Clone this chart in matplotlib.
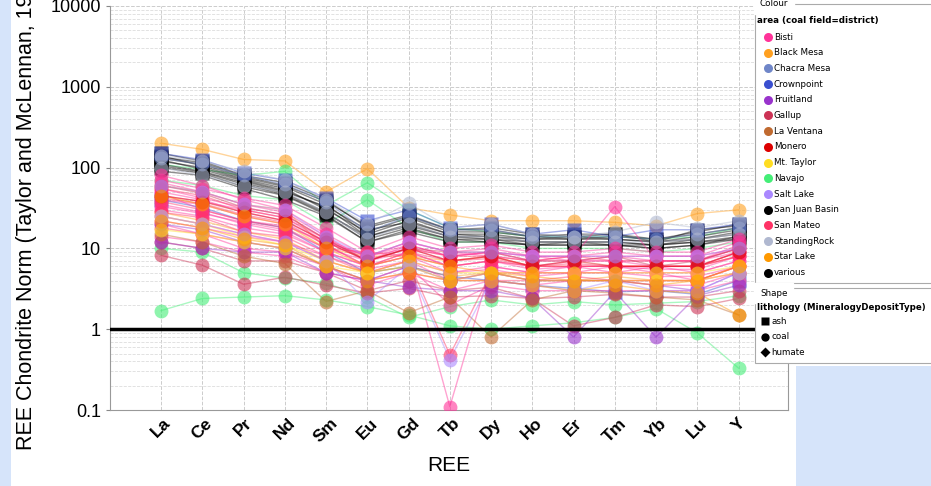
import matplotlib
matplotlib.use("Agg")
import matplotlib.pyplot as plt
from matplotlib.patches import Rectangle

ree = ["La", "Ce", "Pr", "Nd", "Sm", "Eu", "Gd", "Tb", "Dy", "Ho", "Er", "Tm", "Yb", "Lu", "Y"]

districts = ["Bisti", "Black Mesa", "Chacra Mesa", "Crownpoint", "Fruitland", "Gallup",
             "La Ventana", "Monero", "Mt. Taylor", "Navajo", "Salt Lake", "San Juan Basin",
             "San Mateo", "StandingRock", "Star Lake", "various"]
district_colors = ["#ff3399", "#ffa020", "#6f86c8", "#3a4fd0", "#9933cc", "#cc3355",
                   "#c06a30", "#dd0000", "#ffdd22", "#44ee77", "#aa88ff", "#000000",
                   "#ff3366", "#b0b8d0", "#ff9900", "#000000"]

# samples: (district, lithology, values La..Y)
samples = [
    ("Black Mesa", "coal", [200, 168, 126, 121, 50, 97, 32, 26, 22, 22, 22, 21, 19, 27, 30]),
    ("Black Mesa", "coal", [60, 50, 35, 30, 10, 8, 8, 7, 8, 6, 6, 6, 6, 6, 8]),
    ("Black Mesa", "coal", [28, 22, 16, 13, 7, 5, 6, 4.5, 5, 4, 4, 4.5, 4, 4, 6]),
    ("Navajo", "coal", [1.7, 2.4, 2.5, 2.6, 2.3, 1.9, 1.5, 1.1, 1.0, 1.1, 1.2, 1.4, 1.8, 0.9, 0.33]),
    ("Navajo", "coal", [110, 95, 80, 90, 34, 65, 30, 18, 16, 14, 14, 14, 13, 14, 18]),
    ("Navajo", "coal", [70, 60, 45, 40, 20, 40, 18, 12, 12, 10, 10, 10, 9, 10, 12]),
    ("Navajo", "coal", [10, 9, 5, 4.3, 3.7, 2.5, 1.4, 1.9, 2.3, 2.0, 2.2, 2.0, 2.1, 2.2, 2.6]),
    ("San Juan Basin", "ash", [150, 120, 80, 65, 40, 18, 25, 17, 18, 15, 14, 15, 13, 16, 20]),
    ("San Juan Basin", "ash", [130, 110, 75, 58, 35, 15, 22, 15, 15, 13, 13, 13, 12, 14, 17]),
    ("San Juan Basin", "ash", [120, 100, 70, 52, 32, 14, 20, 14, 14, 12, 12, 12, 11, 13, 15]),
    ("San Juan Basin", "ash", [110, 90, 65, 48, 28, 13, 18, 13, 13, 11, 11, 11, 10, 11, 14]),
    ("San Juan Basin", "ash", [140, 105, 72, 55, 30, 16, 24, 16, 16, 14, 13, 14, 13, 15, 18]),
    ("San Juan Basin", "ash", [100, 85, 58, 45, 26, 12, 17, 13, 12, 11, 12, 11, 11, 12, 13]),
    ("San Juan Basin", "ash", [125, 95, 68, 50, 33, 17, 21, 15, 14, 13, 14, 13, 12, 13, 16]),
    ("San Juan Basin", "ash", [135, 115, 78, 60, 38, 19, 26, 17, 17, 14, 15, 15, 12, 17, 19]),
    ("various", "coal", [90, 80, 55, 40, 25, 12, 16, 12, 12, 11, 11, 11, 10, 11, 13]),
    ("various", "coal", [105, 88, 62, 46, 27, 14, 19, 14, 13, 12, 12, 12, 11, 12, 14]),
    ("Crownpoint", "ash", [150, 125, 85, 70, 42, 22, 30, 18, 20, 15, 17, 14, 17, 17, 20]),
    ("Crownpoint", "ash", [40, 32, 22, 18, 9, 5, 6, 4.5, 4, 3.5, 3.2, 2.9, 3.0, 2.7, 4]),
    ("Chacra Mesa", "coal", [130, 110, 80, 62, 38, 16, 25, 17, 17, 14, 14, 14, 13, 15, 18]),
    ("StandingRock", "coal", [140, 120, 90, 70, 40, 20, 36, 18, 20, 15, 14, 16, 21, 18, 22]),
    ("StandingRock", "coal", [100, 80, 60, 50, 28, 13, 20, 14, 14, 12, 12, 12, 12, 13, 15]),
    ("Bisti", "coal", [80, 60, 40, 30, 15, 8, 12, 9, 10, 8, 8, 9, 8, 8, 12]),
    ("Bisti", "coal", [50, 40, 28, 22, 12, 7, 10, 7, 8, 7, 7, 7, 7, 7, 9]),
    ("Bisti", "coal", [40, 35, 25, 20, 11, 6, 9, 6, 7, 6, 6, 6, 6, 6, 8]),
    ("Bisti", "coal", [30, 25, 18, 15, 9, 6, 8, 5, 6, 5, 5, 6, 5, 5, 7]),
    ("Bisti", "coal", [25, 20, 15, 12, 7, 5, 7, 4, 5, 5, 5, 5, 5, 4, 6]),
    ("Bisti", "coal", [65, 50, 35, 28, 14, 7, 11, 8, 9, 8, 8, 8, 8, 8, 10]),
    ("Bisti", "coal", [35, 28, 20, 16, 9, 6, 8, 0.11, 6, 5, 6, 5, 6, 5, 7]),
    ("Bisti", "coal", [20, 15, 10, 9, 6, 3.5, 5, 3, 4, 3.5, 4, 4, 3.5, 3.5, 5]),
    ("Bisti", "coal", [45, 38, 30, 24, 12, 8, 10, 8, 9, 7, 8, 33, 7, 7, 11]),
    ("Bisti", "coal", [14, 12, 9, 8, 5, 4, 6, 2.0, 3.5, 3, 3, 3, 3, 3, 4]),
    ("Bisti", "coal", [70, 55, 42, 34, 18, 9, 14, 10, 11, 9, 9, 10, 9, 9, 13]),
    ("Bisti", "coal", [55, 42, 32, 26, 13, 8, 11, 8, 9, 8, 7, 8, 7, 7, 10]),
    ("Bisti", "coal", [33, 27, 21, 17, 10, 7, 9, 6, 7, 5.5, 6, 6, 5.5, 5.5, 8]),
    ("Bisti", "coal", [22, 18, 14, 12, 8, 5.5, 7, 5, 5.5, 4.5, 5, 5, 4.5, 4.5, 6]),
    ("Bisti", "coal", [48, 30, 22, 19, 12, 8, 12, 9, 8, 6, 7, 7, 6, 6, 9]),
    ("San Mateo", "coal", [55, 45, 30, 24, 13, 7, 10, 8, 8, 7, 8, 7, 7, 7, 10]),
    ("San Mateo", "coal", [38, 30, 22, 18, 10, 9, 8, 6, 7, 6, 6, 6, 6, 6, 8]),
    ("San Mateo", "coal", [18, 15, 12, 10, 6, 4, 5, 4, 4, 4, 4, 4, 4, 4, 5]),
    ("San Mateo", "coal", [28, 24, 16, 14, 8, 5, 7, 0.48, 5, 4, 4.5, 4, 4, 4, 6]),
    ("San Mateo", "coal", [42, 36, 26, 21, 11, 6, 9, 7, 7.5, 6, 6.5, 6, 6, 6, 9]),
    ("Gallup", "coal", [8.2, 6.2, 3.6, 4.4, 3.5, 2.8, 3.2, 2.5, 2.6, 2.4, 2.5, 2.7, 2.5, 2.5, 3.0]),
    ("Gallup", "coal", [12, 10, 7, 7, 5, 3, 4, 3, 3.3, 2.4, 1.1, 1.4, 2.0, 1.9, 2.4]),
    ("Gallup", "coal", [60, 48, 32, 26, 13, 7, 10, 9, 9, 7, 7, 8, 6, 7, 10]),
    ("Fruitland", "coal", [12, 10, 9, 9, 5, 4, 3.3, 3, 3, 2.4, 0.8, 2.9, 0.8, 2.6, 3.5]),
    ("Fruitland", "coal", [20, 17, 12, 10, 6, 4, 6, 4, 5, 4, 4, 4, 3.5, 3, 5]),
    ("La Ventana", "coal", [15, 12, 8, 6.5, 2.2, 3, 1.6, 2.5, 0.8, 2.3, 3, 2.8, 2.5, 2.3, 1.5]),
    ("Monero", "coal", [45, 38, 28, 22, 12, 7, 10, 7, 8, 6, 7, 6, 6, 6, 9]),
    ("Mt. Taylor", "coal", [17, 15, 12, 10, 6, 5, 6, 4, 5, 4, 4, 4, 4, 4, 5]),
    ("Mt. Taylor", "coal", [25, 20, 14, 11, 7, 5, 7, 5, 5, 5, 5, 5, 5, 5, 6]),
    ("Salt Lake", "coal", [25, 20, 15, 12, 7, 2.2, 6, 0.42, 4, 3.5, 3, 4, 3, 3, 5]),
    ("Salt Lake", "coal", [60, 50, 35, 30, 14, 8, 12, 9, 9, 8, 8, 8, 8, 8, 10]),
    ("Star Lake", "coal", [45, 35, 25, 20, 10, 6, 8, 6, 5, 4.5, 4, 4, 3.5, 4, 6]),
    ("Star Lake", "coal", [22, 18, 13, 11, 6, 4, 5, 4, 4, 3.5, 3, 3.5, 3, 2.8, 1.5]),
]

W, H = 931, 486
fig = plt.figure(figsize=(W / 100, H / 100), dpi=100)
fig.patch.set_facecolor("white")
fig.patches.append(Rectangle((0, 0), 11 / W, 1, transform=fig.transFigure,
                             facecolor="#d6e4fa", edgecolor="none", zorder=0))
fig.patches.append(Rectangle((796 / W, 0), 1, (486 - 366) / H, transform=fig.transFigure,
                             facecolor="#d6e4fa", edgecolor="none", zorder=0))

ax = fig.add_axes([110 / W, (H - 410) / H, (788 - 110) / W, (410 - 6) / H])
x = list(range(len(ree)))
cmap = dict(zip(districts, district_colors))
shapes = {"ash": "s", "coal": "o", "humate": "D"}

for dist, lith, vals in samples:
    c = cmap[dist]
    ax.plot(x, vals, color=c, lw=1, alpha=0.45, zorder=2)
    ax.plot(x, vals, linestyle="none", marker=shapes[lith], ms=10, color=c,
            mec="none", alpha=0.6, zorder=3)

ax.axhline(1, color="black", lw=2.5, zorder=5)
ax.set_yscale("log")
ax.set_ylim(0.1, 10000)
ax.set_xlim(-1.24, 15.2)
ax.set_yticks([0.1, 1, 10, 100, 1000, 10000])
ax.set_yticklabels(["0.1", "1", "10", "100", "1000", "10000"])
ax.set_xticks(x)
ax.set_xticklabels(ree, rotation=45, ha="center", fontweight="bold", fontsize=12.5,
                   family="Liberation Sans")
ax.tick_params(axis="y", which="major", labelsize=13, length=3, color="#888888")
ax.tick_params(axis="y", which="minor", length=0)
ax.tick_params(axis="x", length=0, pad=4)
for lbl in ax.get_yticklabels():
    lbl.set_family("Liberation Sans")
ax.grid(True, which="major", axis="both", color="#cccccc", ls="--", lw=0.7)
ax.grid(True, which="minor", axis="y", color="#dddddd", ls="--", lw=0.6)
for s in ["left", "bottom", "right"]:
    ax.spines[s].set_color("#999999")
ax.spines["top"].set_visible(False)

ax.set_xlabel("REE", fontsize=15, family="Liberation Sans", labelpad=8)
fig.text(27 / W, (H - 450) / H, "REE Chondrite Norm (Taylor and McLennan, 1985)",
         rotation=90, ha="center", va="bottom", fontsize=15.5, family="Liberation Sans")

# legend panel, drawn in pixel coordinates
lg = fig.add_axes([0, 0, 1, 1], zorder=10)
lg.set_xlim(0, W)
lg.set_ylim(H, 0)
lg.axis("off")
lg.add_patch(Rectangle((755, 4), 200, 279, facecolor="white", edgecolor="#aaaaaa", lw=0.8))
lg.add_patch(Rectangle((755, 288), 200, 75, facecolor="white", edgecolor="#aaaaaa", lw=0.8))
lg.text(760, 4, "Colour", fontsize=6.3, va="center", backgroundcolor="white")
lg.text(757, 20, "area (coal field=district)", fontsize=6.3, fontweight="bold", va="center")
for i, (d, c) in enumerate(zip(districts, district_colors)):
    yy = 37 + i * 15.7
    lg.plot(768, yy, "o", ms=6.5, color=c, mec="none")
    lg.text(774, yy, d, fontsize=6.3, va="center")
lg.text(760, 293, "Shape", fontsize=6.3, va="center", backgroundcolor="white")
lg.text(757, 307, "lithology (MineralogyDepositType)", fontsize=6.2, fontweight="bold", va="center")
for i, (name, m) in enumerate([("ash", "s"), ("coal", "o"), ("humate", "D")]):
    yy = 321 + i * 15.5
    lg.plot(765, yy, m, ms=6 if m != "D" else 5, color="black", mec="none")
    lg.text(771, yy, name, fontsize=6.3, va="center")

fig.savefig("out.png", dpi=100)
